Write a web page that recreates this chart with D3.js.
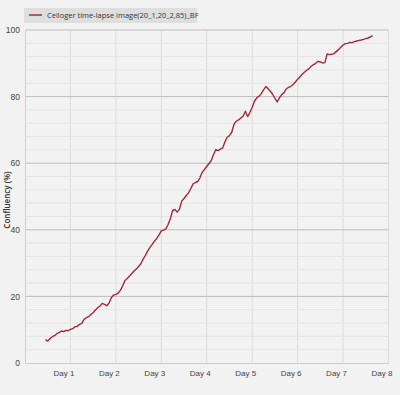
<!DOCTYPE html>
<html><head><meta charset="utf-8">
<script src="https://cdn.jsdelivr.net/npm/d3@7"></script>
<style>body{margin:0;background:#f2f2f2;}svg{display:block;font-family:"Open Sans",sans-serif;}</style>
</head><body><svg id="c" width="400" height="395"></svg>
<script>
const seriesName = "Celloger time-lapse image(20_1,20_2,85)_BF";
const dayLabels = ["Day 1","Day 2","Day 3","Day 4","Day 5","Day 6","Day 7","Day 8"];
const dayTicks = [1,2,3,4,5,6,7,8];
const yTicks = [0,20,40,60,80,100];
const days = [0.45,0.50,0.55,0.60,0.65,0.70,0.75,0.80,0.85,0.90,0.95,1.00,1.05,1.10,1.15,1.20,1.25,1.30,1.35,1.40,1.45,1.50,1.55,1.60,1.65,1.70,1.75,1.80,1.85,1.90,1.95,2.00,2.05,2.10,2.15,2.20,2.25,2.30,2.35,2.40,2.45,2.50,2.55,2.60,2.65,2.70,2.75,2.80,2.85,2.90,2.95,3.00,3.05,3.10,3.15,3.20,3.25,3.30,3.35,3.40,3.45,3.50,3.55,3.60,3.65,3.70,3.75,3.80,3.85,3.90,3.95,4.00,4.05,4.10,4.15,4.20,4.25,4.30,4.35,4.40,4.45,4.50,4.55,4.60,4.65,4.70,4.75,4.80,4.85,4.90,4.95,5.00,5.05,5.10,5.15,5.20,5.25,5.30,5.35,5.40,5.45,5.50,5.55,5.60,5.65,5.70,5.75,5.80,5.85,5.90,5.95,6.00,6.05,6.10,6.15,6.20,6.25,6.30,6.35,6.40,6.45,6.50,6.55,6.60,6.65,6.70,6.75,6.80,6.85,6.90,6.95,7.00,7.05,7.10,7.15,7.20,7.25,7.30,7.35,7.40,7.45,7.50,7.55,7.60,7.65];
const confluency = [7.0,6.6,7.3,7.9,8.2,8.8,9.1,9.6,9.4,9.8,9.7,10.1,10.3,10.9,11.0,11.6,11.9,13.1,13.6,13.9,14.6,15.1,15.9,16.6,17.1,17.9,17.6,17.2,18.0,19.6,20.4,20.6,21.0,21.8,23.2,24.8,25.4,26.1,26.9,27.6,28.2,29.0,29.8,31.2,32.3,33.6,34.7,35.6,36.6,37.4,38.5,39.7,39.9,40.3,41.6,43.4,45.8,46.1,45.3,46.2,48.6,49.4,50.3,51.1,52.4,53.8,54.2,54.5,55.6,57.3,58.1,59.0,59.9,60.8,62.6,64.1,63.8,64.2,64.6,66.4,67.8,68.3,69.3,71.7,72.6,73.0,73.6,74.1,75.6,74.0,75.2,76.8,78.6,79.6,80.1,80.9,82.0,83.0,82.4,81.6,80.7,79.5,78.4,79.6,80.6,81.2,82.3,82.8,83.1,83.6,84.4,85.2,85.9,86.7,87.3,87.9,88.4,89.1,89.6,90.0,90.6,90.4,90.1,90.2,92.8,92.6,92.7,92.9,93.5,94.1,94.8,95.5,95.9,96.0,96.3,96.2,96.5,96.7,96.9,97.0,97.2,97.4,97.6,97.9,98.3];

const svg = d3.select("#c");
const L = 25, R = 388.5, T = 30, B = 363;
const x = d3.scaleLinear().domain([0,8]).range([L,R]);
const y = d3.scaleLinear().domain([0,100]).range([B,T]);

const minor = d3.range(0,101,4).filter(v => v % 20 !== 0);
svg.append("g").selectAll("line").data(minor).join("line")
  .attr("x1",L).attr("x2",R).attr("y1",d=>y(d)).attr("y2",d=>y(d))
  .attr("stroke","#e4e4e4").attr("stroke-width",1);
svg.append("g").selectAll("line").data(dayTicks).join("line")
  .attr("x1",d=>x(d)).attr("x2",d=>x(d)).attr("y1",T).attr("y2",B)
  .attr("stroke","#dddddd").attr("stroke-width",1);
svg.append("g").selectAll("line").data(yTicks.filter(v=>v>0)).join("line")
  .attr("x1",L).attr("x2",R).attr("y1",d=>y(d)).attr("y2",d=>y(d))
  .attr("stroke","#bdbdbd").attr("stroke-width",1);

const yAxis = svg.append("g").attr("transform",`translate(${L},0)`)
  .call(d3.axisLeft(y).tickValues(yTicks).tickSize(0).tickPadding(5));
yAxis.select(".domain").attr("stroke","#cfcfcf");
yAxis.selectAll("text").attr("fill","#444").style("font-size","8.5px");

const xAxis = svg.append("g").attr("transform",`translate(0,${B})`)
  .call(d3.axisBottom(x).tickValues(dayTicks).tickSize(0).tickPadding(7)
    .tickFormat((d,i)=>dayLabels[i]));
xAxis.select(".domain").attr("stroke","#cfcfcf");
xAxis.selectAll("text").attr("fill","#444").attr("dx",-7).style("font-size","8px");

svg.append("text").attr("transform",`translate(10,200) rotate(-90)`)
  .attr("text-anchor","middle").attr("fill","#333").style("font-size","8px")
  .style("font-weight","600").text("Confluency (%)");

const line = d3.line().x((d,i)=>x(days[i])).y(d=>y(d));
svg.append("path").datum(confluency).attr("d",line)
  .attr("fill","none").attr("stroke","#a12a3a").attr("stroke-width",1.4)
  .attr("stroke-linejoin","round");

const lg = svg.append("g");
lg.append("rect").attr("x",24).attr("y",8).attr("width",173).attr("height",15).attr("fill","#dedede");
lg.append("line").attr("x1",29).attr("x2",42).attr("y1",15).attr("y2",15).attr("stroke","#a12a3a").attr("stroke-width",1.5);
lg.append("text").attr("x",47).attr("y",18).attr("fill","#333").style("font-size","7.5px").text(seriesName);
</script></body></html>
